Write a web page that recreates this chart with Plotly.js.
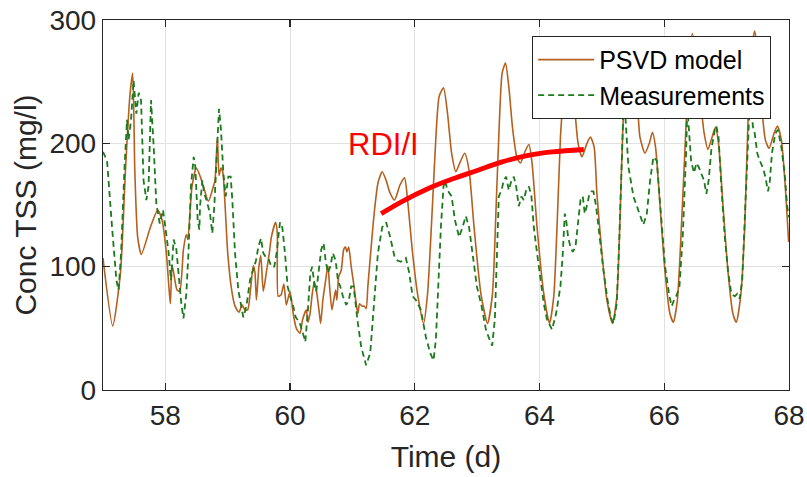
<!DOCTYPE html>
<html>
<head>
<meta charset="utf-8">
<script src="https://cdn.plot.ly/plotly-3.0.1.min.js"></script>
<style>html,body{margin:0;padding:0;background:#fff;}#chart{width:807px;height:477px;}</style>
</head>
<body>
<div id="chart"></div>
<script>
// PSVD model (time in days, concentration mg/l)
const psvdTime = [57.000,57.156,57.280,57.360,57.430,57.476,57.510,57.556,57.615,57.760,57.877,57.946,58.016,58.053,58.080,58.107,58.133,58.187,58.230,58.290,58.336,58.360,58.427,58.497,58.560,58.610,58.690,58.770,58.796,58.834,58.860,58.890,58.920,58.956,59.000,59.063,59.117,59.180,59.230,59.277,59.320,59.370,59.410,59.437,59.460,59.500,59.530,59.570,59.624,59.667,59.700,59.768,59.795,59.810,59.854,59.900,59.940,59.998,60.050,60.100,60.160,60.200,60.260,60.286,60.320,60.355,60.390,60.430,60.470,60.490,60.526,60.570,60.606,60.633,60.670,60.700,60.730,60.750,60.780,60.820,60.860,60.890,60.910,60.940,60.980,61.020,61.060,61.087,61.114,61.157,61.190,61.220,61.247,61.300,61.354,61.410,61.477,61.540,61.600,61.675,61.760,61.835,61.884,61.964,62.044,62.140,62.204,62.284,62.338,62.390,62.460,62.525,62.590,62.658,62.720,62.800,62.870,62.950,63.060,63.166,63.245,63.304,63.357,63.400,63.454,63.507,63.570,63.640,63.694,63.764,63.830,63.880,63.960,64.068,64.160,64.228,64.280,64.335,64.370,64.410,64.460,64.510,64.565,64.618,64.680,64.760,64.816,64.875,64.920,65.000,65.080,65.170,65.240,65.290,65.335,65.390,65.450,65.510,65.575,65.610,65.690,65.760,65.810,65.860,65.930,66.010,66.090,66.146,66.210,66.280,66.360,66.400,66.450,66.520,66.595,66.640,66.700,66.766,66.820,66.870,66.940,67.020,67.100,67.155,67.225,67.290,67.343,67.396,67.450,67.500,67.567,67.620,67.680,67.760,67.813,67.877,67.940,67.994];
const psvdConc = [107,52,95,178,238,257,178,124,110,132,146,138,111,86,70,101,95,81,80,114,126,122,165,180,173,165,153,165,170,205,174,180,177,151,111,81,68,63,69,65,65,84,101,95,73,100,109,80,97,111,124,136,127,76,77,86,69,80,62,50,46,57,65,55,62,78,88,78,62,54,73,89,101,84,65,73,81,73,92,97,114,116,112,116,100,86,70,62,70,68,68,66,84,116,146,168,177,170,160,154,166,172,154,111,78,54,78,151,205,238,245,224,192,177,184,192,178,132,78,54,78,149,219,257,265,246,211,188,184,193,199,184,132,78,54,76,132,205,232,262,276,262,228,200,189,200,205,197,159,111,73,54,76,138,211,262,280,265,228,205,192,200,209,197,151,97,62,55,73,138,227,268,289,268,228,208,195,205,213,200,151,97,62,55,76,132,219,273,291,273,227,203,196,208,214,203,165,120];

// Measurements
const measTime = [57.000,57.065,57.145,57.215,57.250,57.290,57.343,57.385,57.410,57.450,57.490,57.535,57.572,57.610,57.650,57.695,57.730,57.770,57.813,57.855,57.910,57.962,58.000,58.053,58.090,58.133,58.176,58.210,58.256,58.290,58.336,58.370,58.410,58.454,58.480,58.518,58.545,58.556,58.593,58.625,58.660,58.716,58.753,58.785,58.823,58.860,58.892,58.930,58.967,59.010,59.047,59.074,59.117,59.170,59.250,59.300,59.357,59.410,59.453,59.490,59.533,59.570,59.608,59.650,59.700,59.747,59.784,59.838,59.875,59.918,59.960,60.000,60.050,60.090,60.150,60.200,60.244,60.286,60.324,60.355,60.393,60.420,60.460,60.500,60.537,60.570,60.606,60.644,60.686,60.730,60.767,60.804,60.847,60.900,60.943,60.980,61.018,61.050,61.087,61.140,61.220,61.285,61.338,61.408,61.477,61.540,61.605,61.675,61.723,61.777,61.857,61.910,61.964,62.017,62.097,62.177,62.247,62.300,62.338,62.375,62.418,62.460,62.482,62.525,62.590,62.642,62.710,62.765,62.818,62.870,62.925,62.995,63.070,63.140,63.190,63.240,63.283,63.320,63.347,63.390,63.427,63.464,63.507,63.550,63.587,63.625,63.667,63.710,63.747,63.785,63.830,63.870,63.908,63.960,64.015,64.068,64.120,64.175,64.200,64.266,64.335,64.373,64.405,64.426,64.458,64.495,64.533,64.576,64.618,64.656,64.693,64.725,64.762,64.800,64.830,64.864,64.907,64.960,65.025,65.090,65.142,65.185,65.238,65.280,65.318,65.345,65.360,65.375,65.425,65.505,65.600,65.665,65.720,65.773,65.826,65.880,65.933,66.013,66.082,66.120,66.157,66.200,66.243,66.296,66.350,66.370,66.390,66.430,66.477,66.515,66.550,66.595,66.637,66.675,66.712,66.755,66.810,66.835,66.870,66.915,66.970,67.022,67.075,67.130,67.170,67.210,67.250,67.290,67.332,67.370,67.390,67.420,67.450,67.492,67.530,67.583,67.620,67.663,67.690,67.727,67.780,67.823,67.877,67.930,67.970,68.000];
const measConc = [193,186,132,89,81,111,178,219,203,219,251,224,241,235,170,154,165,235,197,151,135,146,132,111,89,122,114,92,70,58,78,111,165,189,181,138,130,149,170,159,154,143,127,149,192,228,211,176,157,173,173,154,111,81,59,68,89,97,105,116,123,111,108,107,100,100,111,136,132,111,84,76,68,59,55,47,39,65,95,100,84,80,97,114,119,105,95,100,111,105,89,84,76,69,73,84,84,68,54,35,20,30,68,111,132,136,124,108,105,104,107,95,76,73,65,43,30,24,41,84,132,165,170,162,157,138,124,132,141,132,111,84,68,49,42,36,57,111,157,162,170,173,162,170,173,165,149,157,154,162,165,157,132,111,89,70,57,51,49,62,84,111,143,138,124,116,112,116,138,154,157,143,150,159,161,161,149,124,97,73,59,54,70,124,197,228,236,222,181,157,143,134,143,170,189,186,151,100,76,68,73,77,84,124,192,230,215,186,176,184,181,176,170,159,170,195,211,214,205,165,124,97,78,76,78,74,89,138,192,232,238,214,208,192,186,180,173,161,168,192,208,211,197,176,149,140];

// RDI/I trend line
const trendTime = [61.46,61.80,62.20,62.60,63.00,63.40,63.80,64.20,64.71];
const trendConc = [143,153,163,171,178,185,190,193,195];

const xTicks = [58,60,62,64,66,68];
const yTicks = [0,100,200,300];

const font = "'Liberation Sans', Arial, sans-serif";
const axisCol = '#262626';

const traces = [
  {x: psvdTime, y: psvdConc, type: 'scatter', mode: 'lines', name: 'PSVD model',
   line: {color: '#B5601F', width: 1.6, shape: 'spline', smoothing: 0.6}},
  {x: measTime, y: measConc, type: 'scatter', mode: 'lines', name: 'Measurements',
   line: {color: '#1B7A1B', width: 1.8, dash: '6px,4px'}},
  {x: trendTime, y: trendConc, type: 'scatter', mode: 'lines', showlegend: false,
   line: {color: '#FF0000', width: 4.8, shape: 'spline'}}
];

const axBase = {
  showline: true, linecolor: axisCol, linewidth: 1.3, mirror: 'ticks',
  ticks: 'inside', ticklen: 7, tickcolor: axisCol, tickwidth: 1.2,
  showgrid: true, gridcolor: '#e2e2e2', gridwidth: 1, zeroline: false,
  tickfont: {family: font, size: 28, color: axisCol}
};

const layout = {
  width: 807, height: 477,
  margin: {l: 103, r: 18, t: 20, b: 87},
  paper_bgcolor: '#fff', plot_bgcolor: '#fff',
  xaxis: Object.assign({}, axBase, {range: [57, 68], tickvals: xTicks, ticktext: xTicks.map(String),
    title: {text: 'Time (d)', font: {family: font, size: 30, color: axisCol}, standoff: 16}}),
  yaxis: Object.assign({}, axBase, {range: [0, 300], tickvals: yTicks, ticktext: yTicks.map(String),
    title: {text: 'Conc TSS (mg/l)', font: {family: font, size: 30, color: axisCol}, standoff: 4}}),
  legend: {x: 0.974, y: 0.957, xanchor: 'right', yanchor: 'top', bgcolor: '#fff',
    bordercolor: axisCol, borderwidth: 1, font: {family: font, size: 25, color: '#000'},
    itemwidth: 56, tracegroupgap: 0},
  annotations: [{x: 61.5, y: 199, xref: 'x', yref: 'y', text: 'RDI/I', showarrow: false,
    font: {family: font, size: 31, color: '#FF0000'}}],
  showlegend: true
};

Plotly.newPlot('chart', traces, layout, {displayModeBar: false, staticPlot: true});
</script>
</body>
</html>
